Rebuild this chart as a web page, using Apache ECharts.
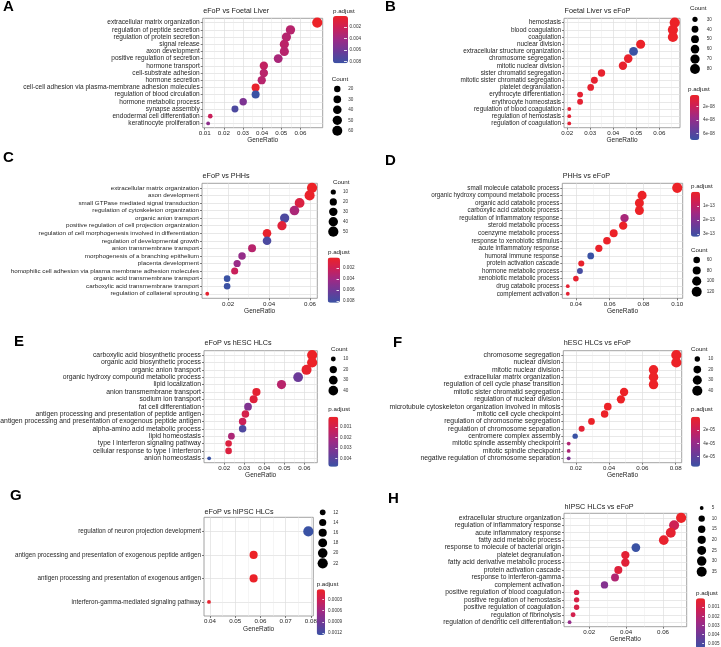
<!DOCTYPE html>
<html><head><meta charset="utf-8">
<script src="https://cdn.jsdelivr.net/npm/echarts@6.0.0/dist/echarts.min.js"></script>
<style>html,body{margin:0;padding:0;background:#fff}#c{width:721px;height:647px}</style>
</head><body><div id="c"></div>
<script>
// ================= DATA =================
// Panel A: eFoP vs Foetal Liver
const termsA = ["extracellular matrix organization","regulation of peptide secretion","regulation of protein secretion","signal release","axon development","positive regulation of secretion","hormone transport","cell-substrate adhesion","hormone secretion","cell-cell adhesion via plasma-membrane adhesion molecules","regulation of blood circulation","hormone metabolic process","synapse assembly","endodermal cell differentiation","keratinocyte proliferation"];
const ratioA = [0.0688,0.0548,0.0527,0.0516,0.0516,0.0484,0.0409,0.0409,0.0398,0.0366,0.0366,0.0301,0.0258,0.0129,0.0118];
const countA = [64,51,49,48,48,45,38,38,37,34,34,28,24,12,11];
const padjA  = [0.00005,0.0030,0.0031,0.0028,0.0030,0.0036,0.0025,0.0029,0.0030,0.0003,0.0083,0.0055,0.0075,0.0022,0.0048];
const xTicksA = [0.01,0.02,0.03,0.04,0.05,0.06];
const pTicksA = [0.002,0.004,0.006,0.008];
const breaksA = [20,30,40,50,60];

// Panel B: Foetal Liver vs eFoP
const termsB = ["hemostasis","blood coagulation","coagulation","nuclear division","extracellular structure organization","chromosome segregation","mitotic nuclear division","sister chromatid segregation","mitotic sister chromatid segregation","platelet degranulation","erythrocyte differentiation","erythrocyte homeostasis","regulation of blood coagulation","regulation of hemostasis","regulation of coagulation"];
const ratioB = [0.0667,0.0659,0.0659,0.0519,0.0488,0.0465,0.0442,0.0349,0.0318,0.0302,0.0256,0.0256,0.0209,0.0209,0.0209];
const countB = [86,85,85,67,63,60,57,45,41,39,33,33,27,27,27];
const padjB  = [2.4e-9,2.6e-9,2.6e-9,3.0e-9,7.0e-8,4.0e-9,4.5e-9,5.0e-9,6.0e-9,5.5e-9,6.5e-9,6.5e-9,7.0e-9,7.0e-9,7.0e-9];
const xTicksB = [0.02,0.03,0.04,0.05,0.06];
const pTicksB = [2e-8,4e-8,6e-8];
const breaksB = [30,40,50,60,70,80];

// Panel C: eFoP vs PHHs
const termsC = ["extracellular matrix organization","axon development","small GTPase mediated signal transduction","regulation of cytoskeleton organization","organic anion transport","positive regulation of cell projection organization","regulation of cell morphogenesis involved in differentiation","regulation of developmental growth","anion transmembrane transport","morphogenesis of a branching epithelium","placenta development","homophilic cell adhesion via plasma membrane adhesion molecules","organic acid transmembrane transport","carboxylic acid transmembrane transport","regulation of collateral sprouting"];
const ratioC = [0.0610,0.0598,0.0549,0.0524,0.0476,0.0463,0.0390,0.0390,0.0317,0.0268,0.0244,0.0232,0.0195,0.0195,0.0098];
const countC = [50,49,45,43,39,38,32,32,26,22,20,19,16,16,8];
const padjC  = [0.00005,0.0002,0.0012,0.0035,0.0075,0.0008,0.0003,0.0076,0.0030,0.0045,0.0043,0.0022,0.0083,0.0082,0.0004];
const xTicksC = [0.02,0.04,0.06];
const pTicksC = [0.002,0.004,0.006,0.008];
const breaksC = [10,20,30,40,50];

// Panel D: PHHs vs eFoP
const termsD = ["small molecule catabolic process","organic hydroxy compound metabolic process","organic acid catabolic process","carboxylic acid catabolic process","regulation of inflammatory response","steroid metabolic process","coenzyme metabolic process","response to xenobiotic stimulus","acute inflammatory response","humoral immune response","protein activation cascade","hormone metabolic process","xenobiotic metabolic process","drug catabolic process","complement activation"];
const ratioD = [0.1000,0.0792,0.0776,0.0776,0.0688,0.0680,0.0624,0.0584,0.0536,0.0488,0.0432,0.0424,0.0400,0.0352,0.0352];
const countD = [125,99,97,97,86,85,78,73,67,61,54,53,50,44,44];
const padjD  = [1e-19,2e-17,5e-17,6e-17,1.4e-13,3e-16,1e-15,3e-15,6e-15,3.2e-13,9e-15,3.0e-13,1.5e-14,2e-14,2e-14];
const xTicksD = [0.04,0.06,0.08,0.10];
const pTicksD = [1e-13,2e-13,3e-13];
const breaksD = [60,80,100,120];

// Panel E: eFoP vs hESC HLCs
const termsE = ["carboxylic acid biosynthetic process","organic acid biosynthetic process","organic anion transport","organic hydroxy compound metabolic process","lipid localization","anion transmembrane transport","sodium ion transport","fat cell differentiation","antigen processing and presentation of peptide antigen","antigen processing and presentation of exogenous peptide antigen","alpha-amino acid metabolic process","lipid homeostasis","type I interferon signaling pathway","cellular response to type I interferon","anion homeostasis"];
const ratioE = [0.0639,0.0639,0.0611,0.0569,0.0486,0.0361,0.0347,0.0319,0.0306,0.0292,0.0292,0.0236,0.0222,0.0222,0.0125];
const countE = [46,46,44,41,35,26,25,23,22,21,21,17,16,16,9];
const padjE  = [0.00002,0.00003,0.0002,0.0036,0.0017,0.0003,0.0005,0.0031,0.0009,0.0012,0.0043,0.0020,0.0006,0.0006,0.0048];
const xTicksE = [0.02,0.03,0.04,0.05,0.06];
const pTicksE = [0.001,0.002,0.003,0.004];
const breaksE = [10,20,30,40];

// Panel F: hESC HLCs vs eFoP
const termsF = ["chromosome segregation","nuclear division","mitotic nuclear division","extracellular matrix organization","regulation of cell cycle phase transition","mitotic sister chromatid segregation","regulation of nuclear division","microtubule cytoskeleton organization involved in mitosis","mitotic cell cycle checkpoint","regulation of chromosome segregation","regulation of chromosome separation","centromere complex assembly","mitotic spindle assembly checkpoint","mitotic spindle checkpoint","negative regulation of chromosome separation"];
const ratioF = [0.0804,0.0804,0.0667,0.0667,0.0667,0.0490,0.0471,0.0392,0.0373,0.0294,0.0235,0.0196,0.0157,0.0157,0.0157];
const countF = [41,41,34,34,34,25,24,20,19,15,12,10,8,8,8];
const padjF  = [1e-12,2e-12,5e-11,6e-11,1e-10,2e-9,3e-9,1e-7,2e-7,5e-7,5e-6,7.5e-5,3.0e-5,3.1e-5,5.0e-5];
const xTicksF = [0.02,0.04,0.06,0.08];
const pTicksF = [2e-5,4e-5,6e-5];
const breaksF = [10,20,30,40];

// Panel G: eFoP vs hIPSC HLCs
const termsG = ["regulation of neuron projection development","antigen processing and presentation of exogenous peptide antigen","antigen processing and presentation of exogenous antigen","interferon-gamma-mediated signaling pathway"];
const ratioG = [0.0790,0.0573,0.0573,0.0396];
const countG = [22,16,16,11];
const padjG  = [0.00125,0.00003,0.00004,0.00008];
const xTicksG = [0.04,0.05,0.06,0.07,0.08];
const pTicksG = [0.0003,0.0006,0.0009,0.0012];
const breaksG = [12,14,16,18,20,22];

// Panel H: hIPSC HLCs vs eFoP
const termsH = ["extracellular structure organization","regulation of inflammatory response","acute inflammatory response","fatty acid metabolic process","response to molecule of bacterial origin","platelet degranulation","fatty acid derivative metabolic process","protein activation cascade","response to interferon-gamma","complement activation","positive regulation of blood coagulation","positive regulation of hemostasis","positive regulation of coagulation","regulation of fibrinolysis","regulation of dendritic cell differentiation"];
const ratioH = [0.0698,0.0660,0.0642,0.0604,0.0453,0.0396,0.0396,0.0358,0.0340,0.0283,0.0132,0.0132,0.0132,0.0113,0.0094];
const countH = [37,35,34,32,24,21,21,19,18,15,7,7,7,6,5];
const padjH  = [0.00001,0.0013,0.0003,0.0002,0.0056,0.0004,0.0005,0.0006,0.0022,0.0035,0.0009,0.0009,0.0009,0.0011,0.0030];
const xTicksH = [0.02,0.04,0.06];
const pTicksH = [0.001,0.002,0.003,0.004,0.005];
const breaksH = [5,10,15,20,25,30,35];

// ================= PANELS =================
const panels = [
  {id:'A', title:'eFoP vs Foetal Liver', terms:termsA, ratio:ratioA, count:countA, padj:padjA, xTicks:xTicksA, xStep:0.01, pTicks:pTicksA, pStep:0.002, breaks:breaksA},
  {id:'B', title:'Foetal Liver vs eFoP', terms:termsB, ratio:ratioB, count:countB, padj:padjB, xTicks:xTicksB, xStep:0.01, pTicks:pTicksB, pStep:2e-8, breaks:breaksB},
  {id:'C', title:'eFoP vs PHHs', terms:termsC, ratio:ratioC, count:countC, padj:padjC, xTicks:xTicksC, xStep:0.02, pTicks:pTicksC, pStep:0.002, breaks:breaksC},
  {id:'D', title:'PHHs vs eFoP', terms:termsD, ratio:ratioD, count:countD, padj:padjD, xTicks:xTicksD, xStep:0.02, pTicks:pTicksD, pStep:1e-13, breaks:breaksD},
  {id:'E', title:'eFoP vs hESC HLCs', terms:termsE, ratio:ratioE, count:countE, padj:padjE, xTicks:xTicksE, xStep:0.01, pTicks:pTicksE, pStep:0.001, breaks:breaksE},
  {id:'F', title:'hESC HLCs vs eFoP', terms:termsF, ratio:ratioF, count:countF, padj:padjF, xTicks:xTicksF, xStep:0.02, pTicks:pTicksF, pStep:2e-5, breaks:breaksF},
  {id:'G', title:'eFoP vs hIPSC HLCs', terms:termsG, ratio:ratioG, count:countG, padj:padjG, xTicks:xTicksG, xStep:0.01, pTicks:pTicksG, pStep:0.0003, breaks:breaksG},
  {id:'H', title:'hIPSC HLCs vs eFoP', terms:termsH, ratio:ratioH, count:countH, padj:padjH, xTicks:xTicksH, xStep:0.02, pTicks:pTicksH, pStep:0.001, breaks:breaksH}
];

// ================= LAYOUT (pixels) =================
const layout = {
  A:{grid:[202.7,322.7,18.3,127.7], letter:[3,7], titleY:11, yFont:6.55, bar:[333,16,15,47.3], barTitle:[333,11], barLabelX:349.5, countTitle:[331.7,79], size:{cx:337.3,y0:89,y1:130.7,lx:348.3}},
  B:{grid:[564,680,18.3,127.7], letter:[385,7], titleY:11, yFont:6.4, bar:[690,95,9.3,45], barTitle:[688,89.3], barLabelX:703, countTitle:[690,8.3], size:{cx:695,y0:19.3,y1:69,lx:706.7}},
  C:{grid:[202,317.3,183.3,298.3], letter:[3,158], titleY:176, yFont:6.25, bar:[327.7,257.5,12.3,45.2], barTitle:[328,252], barLabelX:343, countTitle:[333,182], size:{cx:333.3,y0:192,y1:231.7,lx:343}},
  D:{grid:[562.3,682.7,183.3,298.3], letter:[385,161], titleY:176, yFont:6.3, bar:[691,191.7,9,45], barTitle:[691,186.5], barLabelX:703, countTitle:[691,250.7], size:{cx:696.7,y0:260,y1:291.7,lx:706.7}},
  E:{grid:[204,317.3,350.7,462.7], letter:[14,341.5], titleY:343.3, yFont:6.8, bar:[328.3,416.7,10,50], barTitle:[328.3,409.3], barLabelX:340, countTitle:[331,349], size:{cx:333.3,y0:359,y1:390.7,lx:343.3}},
  F:{grid:[563.3,681.7,350.7,462.7], letter:[393,343], titleY:343.3, yFont:6.8, bar:[691,416.7,9,50], barTitle:[691,409.3], barLabelX:703.3, countTitle:[691,349], size:{cx:697.3,y0:359,y1:390.7,lx:708.3}},
  G:{grid:[204,313.3,517.3,616], letter:[10,496], titleY:511.7, yFont:6.3, bar:[316.7,589.3,8.3,45.7], barTitle:[316.7,584], barLabelX:328, countTitle:null, size:{cx:322.7,y0:512.3,y1:563.3,lx:333.3}},
  H:{grid:[564,686.7,513.3,626.7], letter:[388,499], titleY:506.7, yFont:6.7, bar:[696,598.3,9,50.4], barTitle:[696,593.3], barLabelX:708, countTitle:null, size:{cx:701.7,y0:508,y1:571.7,lx:711.7}}
};

const FONT = '"Liberation Sans", Arial, Helvetica, sans-serif';
const PALETTE = ['#EC2227','#CB2058','#9C2A86','#6B3A98','#3A52A4'];
const TXT = '#262626';

function dotSize(c, cmin, cmax) {
  const t = cmax > cmin ? (c - cmin) / (cmax - cmin) : 1;
  return 3.8 + 6.4 * Math.sqrt(Math.max(0, t));
}
function hasTick(list, v, step) { return list.some(t => Math.abs(t - v) < step * 1e-3); }
function fmtP(v) {
  if (v < 1e-4) {
    const s = v.toExponential(0);
    return s.replace(/e([+-])(\d+)$/, (m, sg, d) => 'e' + sg + (d.length < 2 ? '0' + d : d));
  }
  return String(parseFloat(v.toPrecision(6)));
}

const mainGrids = [], sizeGrids = [], barGrids = [];
const mainX = [], mainY = [], sizeX = [], sizeY = [], barX = [], barY = [];
const mainSeries = [], sizeSeries = [], visualMaps = [], titles = [];
const NP = panels.length;

panels.forEach((p, k) => {
  const L = layout[p.id];
  const [gl, gr, gt, gb] = L.grid;
  const n = p.terms.length;
  const rmin = Math.min(...p.ratio), rmax = Math.max(...p.ratio);
  const pad = (rmax - rmin) * 0.05;
  const cmin = Math.min(...p.count), cmax = Math.max(...p.count);
  const pmin = Math.min(...p.padj), pmax = Math.max(...p.padj);
  const idx = p.terms.map((_, i) => i + 1);

  // ---- main plot ----
  mainGrids.push({left: gl, top: gt, width: gr - gl, height: gb - gt, show: true,
    borderColor: '#8c8c8c', borderWidth: 0.8, backgroundColor: '#fff', outerBoundsMode: 'none'});
  mainX.push({
    gridIndex: k, type: 'value', min: rmin - pad, max: rmax + pad,
    minInterval: p.xStep, maxInterval: p.xStep, splitNumber: 5,
    axisLine: {show: false},
    axisTick: {show: true, length: 2, lineStyle: {color: '#444', width: 0.7}, customValues: p.xTicks},
    axisLabel: {fontSize: 6.2, color: TXT, margin: 2.5, customValues: p.xTicks,
      formatter: v => hasTick(p.xTicks, v, p.xStep) ? v.toFixed(2) : ''},
    splitLine: {show: true, lineStyle: {color: '#dedede', width: 0.7}},
    minorTick: {show: false, splitNumber: 2},
    minorSplitLine: {show: true, lineStyle: {color: '#ebebeb', width: 0.5}},
    name: 'GeneRatio', nameLocation: 'middle', nameGap: 9,
    nameTextStyle: {fontSize: 6.5, color: TXT}
  });
  mainY.push({
    gridIndex: k, type: 'value', min: 0.4, max: n + 0.6, inverse: true,
    minInterval: 1, maxInterval: 1, splitNumber: n,
    axisLine: {show: false},
    axisTick: {show: true, length: 2, lineStyle: {color: '#444', width: 0.7}, customValues: idx},
    axisLabel: {fontSize: L.yFont, color: TXT, margin: 3, customValues: idx,
      formatter: v => { const i = Math.round(v); return (Math.abs(v - i) < 1e-6 && i >= 1 && i <= n) ? p.terms[i - 1] : ''; }},
    splitLine: {show: true, lineStyle: {color: '#dedede', width: 0.7}}
  });
  mainSeries.push({
    type: 'scatter', xAxisIndex: k, yAxisIndex: k, symbol: 'circle', silent: true,
    data: p.terms.map((t, i) => [p.ratio[i], i + 1, p.count[i], p.padj[i]]),
    symbolSize: v => dotSize(v[2], cmin, cmax),
    itemStyle: {opacity: 1}
  });

  // ---- size legend ----
  const S = L.size, nb = p.breaks.length;
  const band = (S.y1 - S.y0) / (nb - 1);
  sizeGrids.push({left: S.cx - 5, width: 10, top: S.y0 - band / 2, height: nb * band, show: false, outerBoundsMode: 'none'});
  sizeX.push({gridIndex: NP + k, type: 'value', min: -1, max: 1, show: false});
  sizeY.push({gridIndex: NP + k, type: 'category', data: p.breaks.map(String), inverse: true, position: 'right',
    axisLine: {show: false}, axisTick: {show: false}, splitLine: {show: false},
    axisLabel: {fontSize: 4.6, color: '#333', margin: S.lx - (S.cx + 5)}});
  sizeSeries.push({
    type: 'scatter', xAxisIndex: NP + k, yAxisIndex: NP + k, symbol: 'circle', silent: true,
    data: p.breaks.map((b, i) => [0, i, b]),
    symbolSize: v => dotSize(v[2], cmin, cmax),
    itemStyle: {color: '#000', opacity: 1}
  });

  // ---- colour bar ----
  const [bl, bt, bw, bh] = L.bar;
  visualMaps.push({
    type: 'continuous', seriesIndex: k, dimension: 3, min: pmin, max: pmax,
    inverse: true, orient: 'vertical', left: bl, top: bt, itemWidth: bw, itemHeight: bh,
    calculable: false, padding: 0, hoverLink: false, inRange: {color: PALETTE}
  });
  barGrids.push({left: bl + bw - 1, top: bt, width: 1, height: bh, show: false, outerBoundsMode: 'none'});
  barX.push({gridIndex: 2 * NP + k, type: 'value', min: 0, max: 1, show: false});
  barY.push({gridIndex: 2 * NP + k, type: 'value', min: pmin, max: pmax, inverse: true, position: 'right',
    minInterval: p.pStep, maxInterval: p.pStep, z: 10,
    axisLine: {show: false},
    axisTick: {show: true, inside: true, length: Math.max(1.5, bw * 0.2), lineStyle: {color: '#fff', width: 0.8}, customValues: p.pTicks},
    axisLabel: {fontSize: 4.6, color: '#333', margin: L.barLabelX - (bl + bw), customValues: p.pTicks,
      formatter: v => hasTick(p.pTicks, v, p.pStep) ? fmtP(v) : ''},
    splitLine: {show: false}});

  // ---- texts ----
  titles.push({text: p.id, left: L.letter[0], top: L.letter[1] - 7.5, padding: 0,
    textStyle: {fontSize: 15, fontWeight: 'bold', color: '#000', lineHeight: 15, fontFamily: FONT}});
  titles.push({text: p.title, left: gl + 0.5, top: L.titleY - 3.6, padding: 0,
    textStyle: {fontSize: 7.2, fontWeight: 'normal', color: '#1a1a1a', lineHeight: 7.2, fontFamily: FONT}});
  titles.push({text: 'p.adjust', left: L.barTitle[0], top: L.barTitle[1] - 3.1, padding: 0,
    textStyle: {fontSize: 6.2, fontWeight: 'normal', color: '#1a1a1a', lineHeight: 6.2, fontFamily: FONT}});
  if (L.countTitle) {
    titles.push({text: 'Count', left: L.countTitle[0], top: L.countTitle[1] - 3.1, padding: 0,
      textStyle: {fontSize: 6.2, fontWeight: 'normal', color: '#1a1a1a', lineHeight: 6.2, fontFamily: FONT}});
  }
});

const option = {
  animation: false,
  backgroundColor: '#fff',
  textStyle: {fontFamily: FONT},
  title: titles,
  grid: mainGrids.concat(sizeGrids, barGrids),
  xAxis: mainX.concat(sizeX, barX),
  yAxis: mainY.concat(sizeY, barY),
  visualMap: visualMaps,
  series: mainSeries.concat(sizeSeries)
};

const chart = echarts.init(document.getElementById('c'), null, {renderer: 'canvas', width: 721, height: 647});
chart.setOption(option);
</script>
</body></html>
